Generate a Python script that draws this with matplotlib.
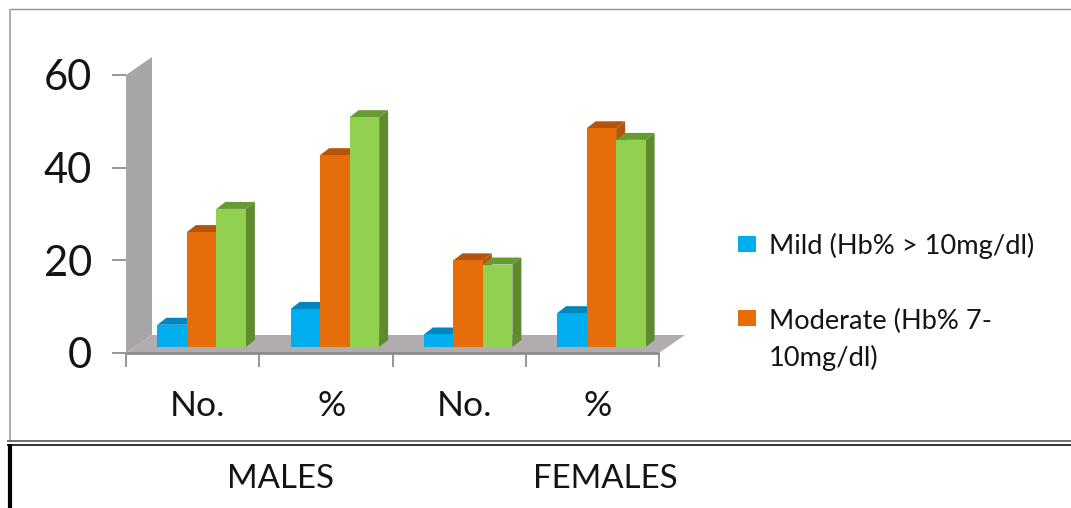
#!/usr/bin/env python3

import matplotlib
matplotlib.use("Agg")
import matplotlib.pyplot as plt
from matplotlib.lines import Line2D
from matplotlib.patches import Polygon, Rectangle


# ==========================================================
# DATA
# ==========================================================
CATEGORIES = ["No.", "%", "No.", "%"]
MILD = [4.8, 8.2, 2.7, 7.3]
MODERATE = [24.8, 41.4, 18.7, 47.2]
SEVERE = [29.8, 49.6, 17.8, 44.7]
Y_TICKS = [0, 20, 40, 60]
LEGEND_LABELS = ["Mild (Hb% > 10mg/dl)", "Moderate (Hb% 7-\n10mg/dl)"]
GROUP_LABELS = ["MALES", "FEMALES"]


# ==========================================================
# STYLE
# ==========================================================
W, H = 1071, 508
plt.rcParams.update({
    "font.family": ["Lato", "DejaVu Sans"],
    "figure.dpi": 100,
    "savefig.dpi": 100,
})

COL_TEXT = "#141414"
COL_TICK = "#858585"
COL_WALL = "#a6a6a6"
COL_FLOOR = "#b0acb0"
# front, top, side faces of each series
COL_MILD = ("#00aeef", "#0086bd", "#0086bd")
COL_MOD = ("#e56d0a", "#b5540a", "#b5540a")
COL_SEV = ("#92d050", "#689a32", "#5f8b2e")

# plot rectangle in pixels
X0, X1 = 126, 659
Y_BASE, Y_TOP = 353, 75

PX_X = (X1 - X0) / len(CATEGORIES)
PX_Y = (Y_BASE - Y_TOP) / 60

BAR_W = 29.5 / PX_X
DEPTH_X = 9 / PX_X
DEPTH_Y = 7 / PX_Y
# bars stand a little way back on the floor
SHIFT_X = 9 / PX_X
SHIFT_Y = 6 / PX_Y
WALL_X = 26 / PX_X
WALL_Y = 18 / PX_Y


def box3d(ax, x, value, colors, z):
    """Front, top and side faces of one bar."""
    base = SHIFT_Y
    top = base + value
    ax.bar(x, value, BAR_W, bottom=base, align="edge", color=colors[0],
           lw=0, zorder=z + 0.2)
    ax.add_patch(Polygon(
        [(x, top), (x + BAR_W, top),
         (x + BAR_W + DEPTH_X, top + DEPTH_Y), (x + DEPTH_X, top + DEPTH_Y)],
        fc=colors[1], lw=0, zorder=z + 0.1, clip_on=False))
    ax.add_patch(Polygon(
        [(x + BAR_W, base), (x + BAR_W + DEPTH_X, base + DEPTH_Y),
         (x + BAR_W + DEPTH_X, top + DEPTH_Y), (x + BAR_W, top)],
        fc=colors[2], lw=0, zorder=z, clip_on=False))


# ==========================================================
# PLOT
# ==========================================================
fig = plt.figure(figsize=(W / 100, H / 100), facecolor="white")
ax = fig.add_axes([X0 / W, 1 - Y_BASE / H, (X1 - X0) / W, (Y_BASE - Y_TOP) / H])
ax.patch.set_alpha(0)
ax.set_xlim(0, len(CATEGORIES))
ax.set_ylim(0, 60)
for spine in ax.spines.values():
    spine.set_visible(False)

# back wall and floor
ax.add_patch(Polygon(
    [(0, 0), (0, 60), (WALL_X, 60 + WALL_Y), (WALL_X, WALL_Y)],
    fc=COL_WALL, lw=0, zorder=1, clip_on=False))
ax.add_patch(Polygon(
    [(0, 0), (4, 0), (4 + WALL_X, WALL_Y), (WALL_X, WALL_Y)],
    fc=COL_FLOOR, lw=0, zorder=1, clip_on=False))
ax.plot([0, 4], [0, 0], color="#8c8c8c", lw=2.0, zorder=2, clip_on=False,
        solid_capstyle="butt")

# bars, drawn left to right so each one covers its neighbour's side
for i in range(len(CATEGORIES)):
    left = i + 0.5 - 1.5 * BAR_W + SHIFT_X
    for j, (series, colors) in enumerate(
            [(MILD, COL_MILD), (MODERATE, COL_MOD), (SEVERE, COL_SEV)]):
        box3d(ax, left + j * BAR_W, series[i], colors, 3 + j + 10 * i)

# axes ticks
ax.set_yticks(Y_TICKS)
ax.tick_params(axis="y", length=10, width=1.2, color=COL_TICK, pad=14.4,
               labelsize=30, labelcolor=COL_TEXT)
ax.set_xticks(range(len(CATEGORIES) + 1))
ax.set_xticklabels([])
ax.tick_params(axis="x", which="major", length=10, width=1.2, color=COL_TICK)
ax.set_xticks([i + 0.54 for i in range(len(CATEGORIES))], minor=True)
ax.set_xticklabels(CATEGORIES, minor=True)
ax.tick_params(axis="x", which="minor", length=0, pad=27, labelsize=25.5,
               labelcolor=COL_TEXT)


def fig_line(x0, y0, x1, y1, color, lw):
    fig.add_artist(Line2D([x0 / W, x1 / W], [1 - y0 / H, 1 - y1 / H],
                          color=color, lw=lw, solid_capstyle="butt"))


# outer frames
fig_line(9.5, 8.5, W, 8.5, "#8f8f8f", 1.0)
fig_line(9.5, 8.5, 9.5, 441, "#a0a0a0", 1.2)
fig_line(7, 441, W, 441, "#555555", 1.2)
fig_line(7, 444.5, W, 444.5, "#111111", 1.2)
fig_line(9.5, 444, 9.5, H, "#000000", 3.0)

# legend
legend_y = [236, 310]
text_y = [248, 324]
for y, ty, label, colors in zip(legend_y, text_y, LEGEND_LABELS,
                                (COL_MILD, COL_MOD)):
    fig.add_artist(Rectangle((738 / W, 1 - (y + 16) / H), 18 / W, 16 / H,
                             transform=fig.transFigure, fc=colors[0], lw=0))
    fig.text(769 / W, 1 - (ty - 15) / H, label, fontsize=19.6, color=COL_TEXT,
             ha="left", va="top", linespacing=1.5)

# group captions below the chart
for x, label in zip((280, 605), GROUP_LABELS):
    fig.text(x / W, 1 - 479 / H, label, fontsize=23.8, color=COL_TEXT,
             ha="center", va="center")

fig.savefig("out.png")
